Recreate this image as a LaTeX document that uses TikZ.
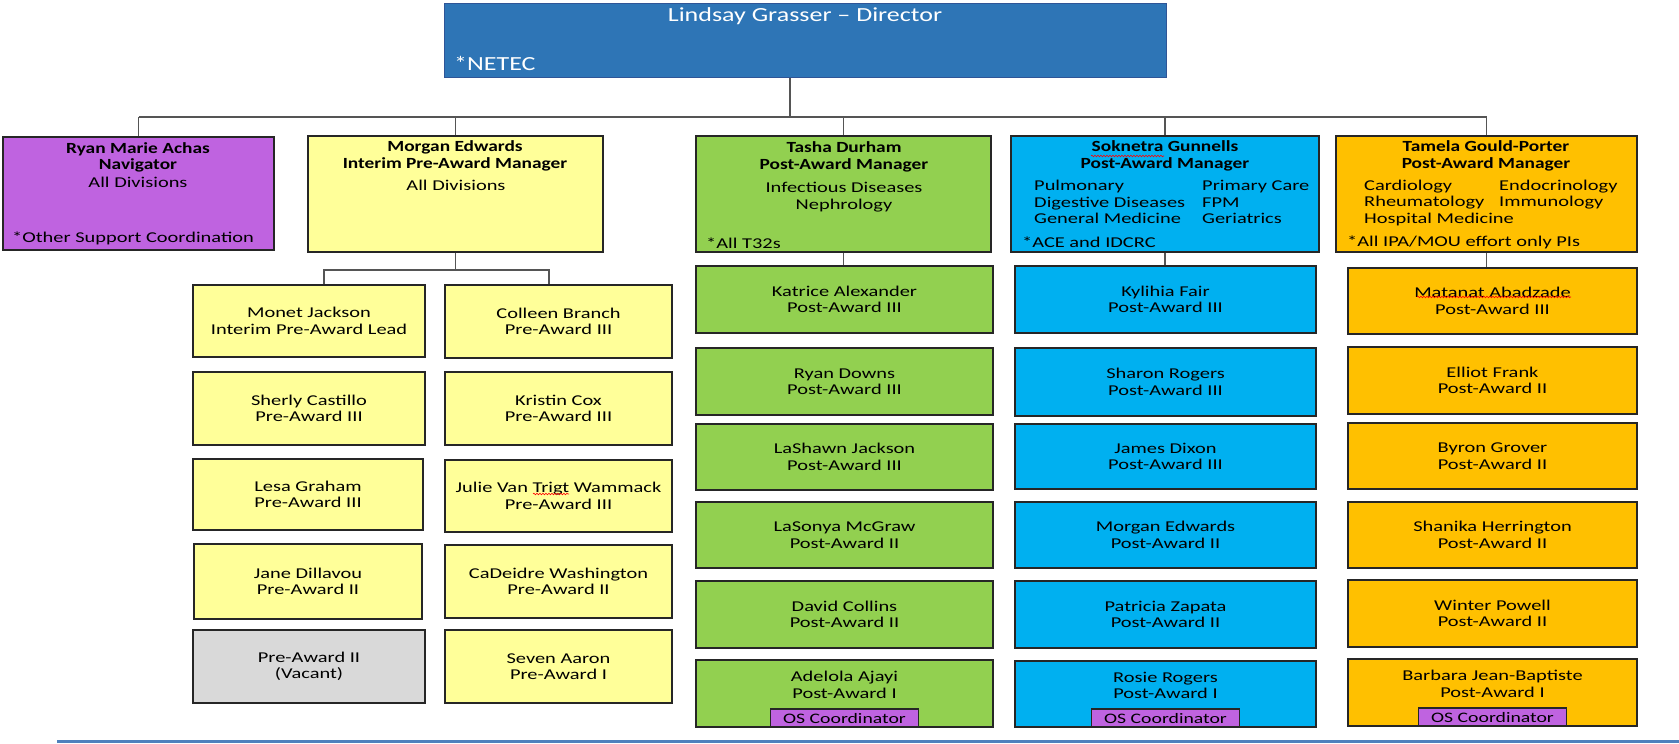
\documentclass[tikz,border=0pt]{standalone}
\usepackage{fontspec}
\setmainfont{Carlito}
\newfontfamily\wf[FakeStretch=1.25]{Carlito}
\newfontfamily\wfw[FakeStretch=1.36]{Carlito}
\newfontfamily\wfd[FakeStretch=1.3]{Carlito}
\usetikzlibrary{decorations.pathmorphing}
\definecolor{dirblue}{HTML}{2E75B6}
\definecolor{dirline}{HTML}{2F5597}
\definecolor{purp}{HTML}{BF63E0}
\definecolor{yel}{HTML}{FFFF99}
\definecolor{grn}{HTML}{92D050}
\definecolor{cyanb}{HTML}{00B0F0}
\definecolor{orng}{HTML}{FFC000}
\definecolor{vac}{HTML}{D9D9D9}
\definecolor{linegray}{HTML}{555555}
\definecolor{rulecol}{HTML}{4F81BD}
\tikzset{
  conn/.style={draw=linegray, line width=1.5pt},
  box/.style={draw=black!85, line width=1.3pt, inner sep=0pt, align=center,
    font=\wfw\fontsize{15}{16.5}\selectfont},
  ltext/.style={font=\wfw\fontsize{15}{16.5}\selectfont, align=center, inner sep=0pt},
  htext/.style={font=\wf\bfseries\fontsize{15.5}{16.5}\selectfont, align=center, inner sep=0pt},
  mtext/.style={font=\wfw\fontsize{15}{16.5}\selectfont, align=center, inner sep=0pt},
  dtext/.style={font=\wfd\fontsize{20}{22}\selectfont, text=white, inner sep=0pt},
  ostag/.style={draw=black!85, line width=1.2pt, fill=purp, inner sep=0pt,
    minimum width=148pt, minimum height=18pt, font=\wfw\fontsize{14.5}{15}\selectfont},
  squig/.style={draw=red, line width=0.6pt, decorate,
    decoration={snake, amplitude=0.8pt, segment length=3pt}}
}
\newcommand\bx[7]{\node[box, fill=#6, minimum width={(#4-#2)*1pt},
  minimum height={(#5-#3)*1pt}] (#1) at ({(#2+#4)/2},{(#3+#5)/2}) {#7};}
\begin{document}
\begin{tikzpicture}[x=1pt,y=-1pt]
\useasboundingbox (0,0) rectangle (1679,744);
% director
\node[draw=dirline, fill=dirblue, line width=1pt, minimum width=722pt,
  minimum height=74pt, inner sep=0pt] (dir) at (805,40) {};
\node[dtext] (dirt) at (805,16) {Lindsay Grasser – Director};
\node[dtext, anchor=west] (netec) at (454,63) {*NETEC};
% managers
\bx{ryan}{3}{137}{274}{250}{purp}{}
\bx{morgan}{308}{136}{603}{252}{yel}{}
\bx{tasha}{696}{136}{991}{252}{grn}{}
\bx{sok}{1011}{136}{1319}{252}{cyanb}{}
\bx{tam}{1336}{136}{1637}{252}{orng}{}
\node[htext] (ryanh) at (138,157.5) {Ryan Marie Achas\\Navigator};
\node[mtext] (ryana) at (138,182) {All Divisions};
\node[mtext, anchor=west] (ryann) at (12,238) {*Other Support Coordination};
\node[htext] (morganh) at (455,156) {Morgan Edwards\\Interim Pre-Award Manager};
\node[mtext] (morgana) at (456,185) {All Divisions};
\node[htext] (tashah) at (844,157) {Tasha Durham\\Post-Award Manager};
\node[mtext] (tashaa) at (844,197) {Infectious Diseases\\Nephrology};
\node[mtext, anchor=west] (tashan) at (706,243) {*All T32s};
\node[htext] (sokh) at (1165,156) {Soknetra Gunnells\\Post-Award Manager};
\node[mtext, align=left, anchor=west] (sokl) at (1034,202) {Pulmonary\\Digestive Diseases\\General Medicine};
\node[mtext, align=left, anchor=west] (sokr) at (1202,202) {Primary Care\\FPM\\Geriatrics};
\node[mtext, anchor=west] (sokn) at (1022,242) {*ACE and IDCRC};
\node[htext] (tamh) at (1486,156) {Tamela Gould-Porter\\Post-Award Manager};
\node[mtext, align=left, anchor=west] (taml) at (1364,202.5) {Cardiology\\Rheumatology\\Hospital Medicine};
\node[mtext, align=left, anchor=west] (tamr) at (1499,194.5) {Endocrinology\\Immunology};
\node[mtext, anchor=west] (tamn) at (1347,242) {*All IPA/MOU effort only PIs};
% pre-award
\bx{y11}{193}{285}{425}{357}{yel}{Monet Jackson\\Interim Pre-Award Lead}
\bx{y21}{445}{285}{672}{358}{yel}{Colleen Branch\\Pre-Award III}
\bx{y12}{193}{372}{425}{445}{yel}{Sherly Castillo\\Pre-Award III}
\bx{y22}{445}{372}{672}{445}{yel}{Kristin Cox\\Pre-Award III}
\bx{y13}{193}{459}{423}{530}{yel}{Lesa Graham\\Pre-Award III}
\bx{y23}{445}{460}{672}{532}{yel}{Julie Van Trigt Wammack\\Pre-Award III}
\bx{y14}{194}{544}{422}{619}{yel}{Jane Dillavou\\Pre-Award II}
\bx{y24}{445}{545}{672}{618}{yel}{CaDeidre Washington\\Pre-Award II}
\bx{y15}{193}{630}{425}{703}{vac}{Pre-Award II\\(Vacant)}
\bx{y25}{445}{630}{672}{703}{yel}{Seven Aaron\\Pre-Award I}
% green
\bx{g1}{696}{266}{993}{333}{grn}{Katrice Alexander\\Post-Award III}
\bx{g2}{696}{348}{993}{415}{grn}{Ryan Downs\\Post-Award III}
\bx{g3}{696}{424}{993}{490}{grn}{LaShawn Jackson\\Post-Award III}
\bx{g4}{696}{502}{993}{568}{grn}{LaSonya McGraw\\Post-Award II}
\bx{g5}{696}{581}{993}{648}{grn}{David Collins\\Post-Award II}
\bx{g6}{696}{660}{993}{727}{grn}{}
\node[ltext] (g6t) at ([yshift=8.5pt]g6.center) {Adelola Ajayi\\Post-Award I};
\node[ostag, anchor=south] (g6os) at (g6.south) {OS Coordinator};
% blue
\bx{b1}{1015}{266}{1316}{333}{cyanb}{Kylihia Fair\\Post-Award III}
\bx{b2}{1015}{348}{1316}{416}{cyanb}{Sharon Rogers\\Post-Award III}
\bx{b3}{1015}{424}{1316}{489}{cyanb}{James Dixon\\Post-Award III}
\bx{b4}{1015}{502}{1316}{568}{cyanb}{Morgan Edwards\\Post-Award II}
\bx{b5}{1015}{581}{1316}{648}{cyanb}{Patricia Zapata\\Post-Award II}
\bx{b6}{1015}{661}{1316}{727}{cyanb}{}
\node[ltext] (b6t) at ([yshift=8.5pt]b6.center) {Rosie Rogers\\Post-Award I};
\node[ostag, anchor=south] (b6os) at (b6.south) {OS Coordinator};
% orange
\bx{o1}{1348}{268}{1637}{334}{orng}{Matanat Abadzade\\Post-Award III}
\bx{o2}{1348}{347}{1637}{414}{orng}{Elliot Frank\\Post-Award II}
\bx{o3}{1348}{423}{1637}{489}{orng}{Byron Grover\\Post-Award II}
\bx{o4}{1348}{502}{1637}{568}{orng}{Shanika Herrington\\Post-Award II}
\bx{o5}{1348}{580}{1637}{647}{orng}{Winter Powell\\Post-Award II}
\bx{o6}{1348}{659}{1637}{726}{orng}{}
\node[ltext] (o6t) at ([yshift=8.5pt]o6.center) {Barbara Jean-Baptiste\\Post-Award I};
\node[ostag, anchor=south] (o6os) at (o6.south) {OS Coordinator};
% connectors
\coordinate (j0) at (790,117);
\draw[conn] (j0 |- dir.south) -- (j0);
\draw[conn] (ryan.north |- j0) -- (tam.north |- j0);
\foreach \n in {ryan,morgan,tasha,sok,tam} {\draw[conn] (\n.north) -- (\n.north |- j0);}
\coordinate (m1) at (324,270);
\coordinate (m2) at (549,270);
\draw[conn] (morgan.south) -- (morgan.south |- m1);
\draw[conn] (y11.north -| m1) -- (m1) -- (m2) -- (y21.north -| m2);
\draw[conn] (tasha.south) -- (tasha.south |- g1.north);
\draw[conn] (sok.south) -- (sok.south |- b1.north);
\draw[conn] (tam.south) -- (tam.south |- o1.north);
% spell-check marks
\draw[squig] (1091,156) -- (1164,156);
\draw[squig] (533,494) -- (569,494);
\draw[squig] (1417,297) -- (1571,297);
% bottom rule
\draw[rulecol, line width=3pt] (57,741) -- (1679,741);
\end{tikzpicture}
\end{document}
